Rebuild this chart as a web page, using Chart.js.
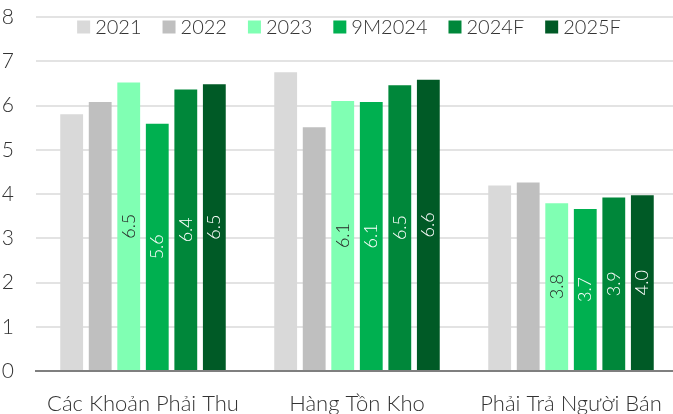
<!DOCTYPE html>
<html><head><meta charset="utf-8">
<script src="https://cdn.jsdelivr.net/npm/chart.js@4"></script>
<style>html,body{margin:0;padding:0;overflow:hidden;background:#fff;width:673px;height:414px}#wrap{width:678px;height:414px}</style>
</head><body><div id="wrap"><canvas id="c" width="678" height="414"></canvas></div>
<script>
const categories = ["Các Khoản Phải Thu", "Hàng Tồn Kho", "Phải Trả Người Bán"];
const seriesNames = ["2021", "2022", "2023", "9M2024", "2024F", "2025F"];
const s2021 = [5.80, 6.75, 4.19];
const s2022 = [6.08, 5.51, 4.26];
const s2023 = [6.52, 6.10, 3.79];
const s9M2024 = [5.59, 6.08, 3.66];
const s2024F = [6.36, 6.46, 3.92];
const s2025F = [6.48, 6.58, 3.97];
const yTicks = [0, 1, 2, 3, 4, 5, 6, 7, 8];
const colors = ["#d9d9d9", "#bfbfbf", "#80ffb3", "#00b050", "#00873a", "#005a26"];
const labelled = [false, false, true, true, true, true];
const labelColors = ["#fff", "#fff", "#262626", "#fff", "#fff", "#fff"];
const FONT = "Lato, 'Noto Sans', sans-serif";
const TEXT = "#333333";

const allSeries = [s2021, s2022, s2023, s9M2024, s2024F, s2025F];
const datasets = allSeries.map((d, i) => ({
  label: seriesNames[i], data: d, backgroundColor: colors[i],
  barPercentage: 0.8, categoryPercentage: 0.8
}));

const barLabels = {
  id: 'barLabels',
  afterDatasetsDraw(chart) {
    const ctx = chart.ctx;
    chart.data.datasets.forEach((ds, i) => {
      if (!labelled[i]) return;
      const meta = chart.getDatasetMeta(i);
      meta.data.forEach((bar, j) => {
        const v = ds.data[j];
        const cy = (bar.y + bar.base) / 2;
        ctx.save();
        ctx.translate(bar.x, cy);
        ctx.rotate(-Math.PI / 2);
        ctx.fillStyle = labelColors[i];
        ctx.font = "300 18px " + FONT;
        ctx.textAlign = 'center';
        ctx.textBaseline = 'middle';
        ctx.fillText(v.toFixed(1), 0, 0);
        ctx.restore();
      });
    });
  }
};

const topLegend = {
  id: 'topLegend',
  afterDraw(chart) {
    const ctx = chart.ctx;
    ctx.save();
    ctx.font = "300 20px " + FONT;
    const box = 13, gapText = 5, gapItem = 21;
    const items = chart.data.datasets.map(ds => ({ t: ds.label, c: ds.backgroundColor, w: ctx.measureText(ds.label).width }));
    let total = items.reduce((s, it) => s + box + gapText + it.w, 0) + gapItem * (items.length - 1);
    let x = 349 - total / 2;
    const cy = 27;
    items.forEach(it => {
      ctx.fillStyle = it.c;
      ctx.fillRect(x, cy - box / 2, box, box);
      x += box + gapText;
      ctx.fillStyle = TEXT;
      ctx.textAlign = 'left';
      ctx.textBaseline = 'middle';
      ctx.fillText(it.t, x, cy + 1);
      x += it.w + gapItem;
    });
    ctx.restore();
  }
};

new Chart(document.getElementById('c'), {
  type: 'bar',
  data: { labels: categories, datasets },
  plugins: [barLabels, topLegend],
  options: {
    responsive: false, animation: false, devicePixelRatio: 1,
    layout: { padding: { left: 2, right: 0, top: 17, bottom: 0 } },
    plugins: {
      legend: { display: false },
      tooltip: { enabled: false }
    },
    scales: {
      x: {
        grid: { display: false },
        border: { display: true, color: '#7f7f7f', width: 2 },
        ticks: { color: TEXT, padding: 12, maxRotation: 0, autoSkip: false, font: { family: FONT, size: 22, weight: 300 } },
        afterFit: (s) => { s.height = 43; s.paddingLeft = 0; s.paddingRight = 0; }
      },
      y: {
        min: 0, max: 8,
        afterBuildTicks: (ax) => { ax.ticks = yTicks.map(v => ({ value: v })); },
        grid: { color: '#e3e3e3', lineWidth: 2, drawTicks: false },
        border: { display: false },
        ticks: { color: TEXT, padding: 22, font: { family: FONT, size: 21, weight: 300 } },
        afterFit: (s) => { s.width = 34; s.paddingTop = 0; s.paddingBottom = 0; }
      }
    }
  }
});
</script></body></html>
